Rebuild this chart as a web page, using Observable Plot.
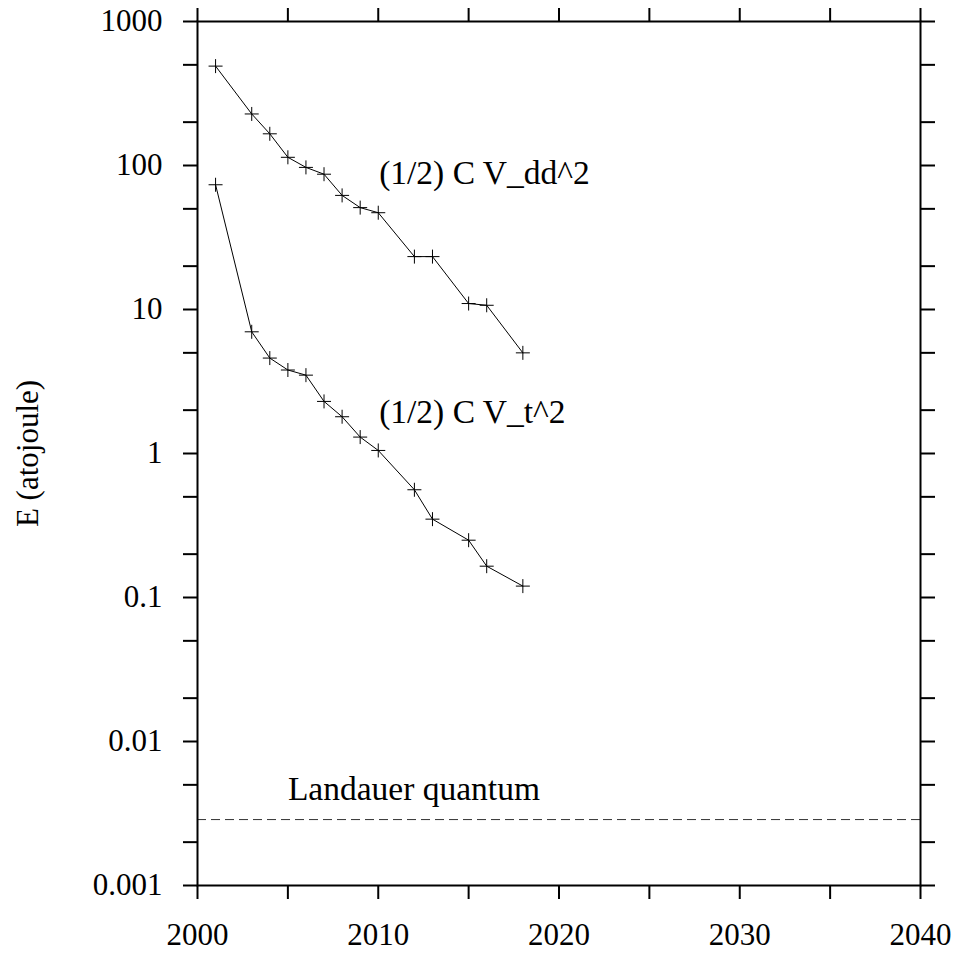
<!DOCTYPE html>
<html><head><meta charset="utf-8">
<script src="https://cdn.jsdelivr.net/npm/d3@7"></script>
<script src="https://cdn.jsdelivr.net/npm/@observablehq/plot@0.6"></script>
<style>body{margin:0;background:#fff;}</style>
</head><body><div id="chart"></div>
<script>
const years = [2001, 2003, 2004, 2005, 2006, 2007, 2008, 2009, 2010, 2012, 2013, 2015, 2016, 2018];
const vddEnergy = [490, 228, 166, 114, 97, 87, 62, 51, 47, 23.3, 23.3, 11, 10.7, 5];
const vtEnergy = [73.5, 7, 4.6, 3.8, 3.5, 2.3, 1.8, 1.3, 1.05, 0.56, 0.35, 0.25, 0.165, 0.12];
const landauerEnergy = 0.00287;
const xTickValues = [2000, 2005, 2010, 2015, 2020, 2025, 2030, 2035, 2040];
const xLabelValues = [2000, 2010, 2020, 2030, 2040];
const yDecades = [0.001, 0.01, 0.1, 1, 10, 100, 1000];
const yDecadeLabels = ["0.001", "0.01", "0.1", "1", "10", "100", "1000"];
const yMinorMultipliers = [2, 5];
const labelTexts = ["(1/2) C V_dd^2", "(1/2) C V_t^2", "Landauer quantum"];
const labelYears = [2010.05, 2010.05, 2005];
const labelValues = [89, 1.93, 0.00464];

const yTickValues = [];
yDecades.forEach((d, i) => {
  yTickValues.push(d);
  if (i < yDecades.length - 1) yMinorMultipliers.forEach(m => yTickValues.push(+(d * m).toPrecision(3)));
});
const yFmt = d => { const i = yDecades.indexOf(d); return i >= 0 ? yDecadeLabels[i] : ""; };
const xFmt = d => xLabelValues.includes(d) ? String(d) : "";

const vdd = years.map((x, i) => ({x, y: vddEnergy[i]}));
const vt = years.map((x, i) => ({x, y: vtEnergy[i]}));
const labels = labelTexts.map((t, i) => ({t, x: labelYears[i], y: labelValues[i]}));

const cross = {draw(ctx, size) { const r = Math.sqrt(size / Math.PI); ctx.moveTo(-r, 0); ctx.lineTo(r, 0); ctx.moveTo(0, -r); ctx.lineTo(0, r); }};

const chart = Plot.plot({
  width: 960, height: 953,
  marginLeft: 197, marginRight: 40, marginTop: 21, marginBottom: 68,
  style: {fontFamily: "'Liberation Serif', 'Times New Roman', serif", fontSize: "31px", color: "black", background: "white"},
  x: {domain: [2000, 2040]},
  y: {type: "log", domain: [0.001, 1000]},
  marks: [
    Plot.ruleY([landauerEnergy], {stroke: "#333", strokeWidth: 1, strokeDasharray: "9,5"}),
    Plot.line(vdd, {x: "x", y: "y", stroke: "black", strokeWidth: 1}),
    Plot.line(vt, {x: "x", y: "y", stroke: "black", strokeWidth: 1}),
    Plot.dot(vdd, {x: "x", y: "y", symbol: cross, r: 7, stroke: "black", fill: "none", strokeWidth: 1}),
    Plot.dot(vt, {x: "x", y: "y", symbol: cross, r: 7, stroke: "black", fill: "none", strokeWidth: 1}),
    Plot.text(labels, {x: "x", y: "y", text: "t", textAnchor: "start", fill: "black", fontSize: 33.5}),
    Plot.frame({stroke: "black", strokeWidth: 2}),
    Plot.axisX({anchor: "bottom", ticks: xTickValues, tickFormat: xFmt, tickSize: 14, tickPadding: 23, strokeWidth: 2, label: null}),
    Plot.axisX({anchor: "top", ticks: xTickValues, tickFormat: () => "", tickSize: 14, strokeWidth: 2, label: null}),
    Plot.axisY({anchor: "left", ticks: yTickValues, tickFormat: yFmt, tickSize: 14, tickPadding: 21, strokeWidth: 2,
      label: "E (atojoule)", labelAnchor: "center", labelArrow: "none", labelOffset: 182}),
    Plot.axisY({anchor: "right", ticks: yTickValues, tickFormat: () => "", tickSize: 14, strokeWidth: 2, label: null})
  ]
});
document.getElementById("chart").appendChild(chart);
</script>
</body></html>
